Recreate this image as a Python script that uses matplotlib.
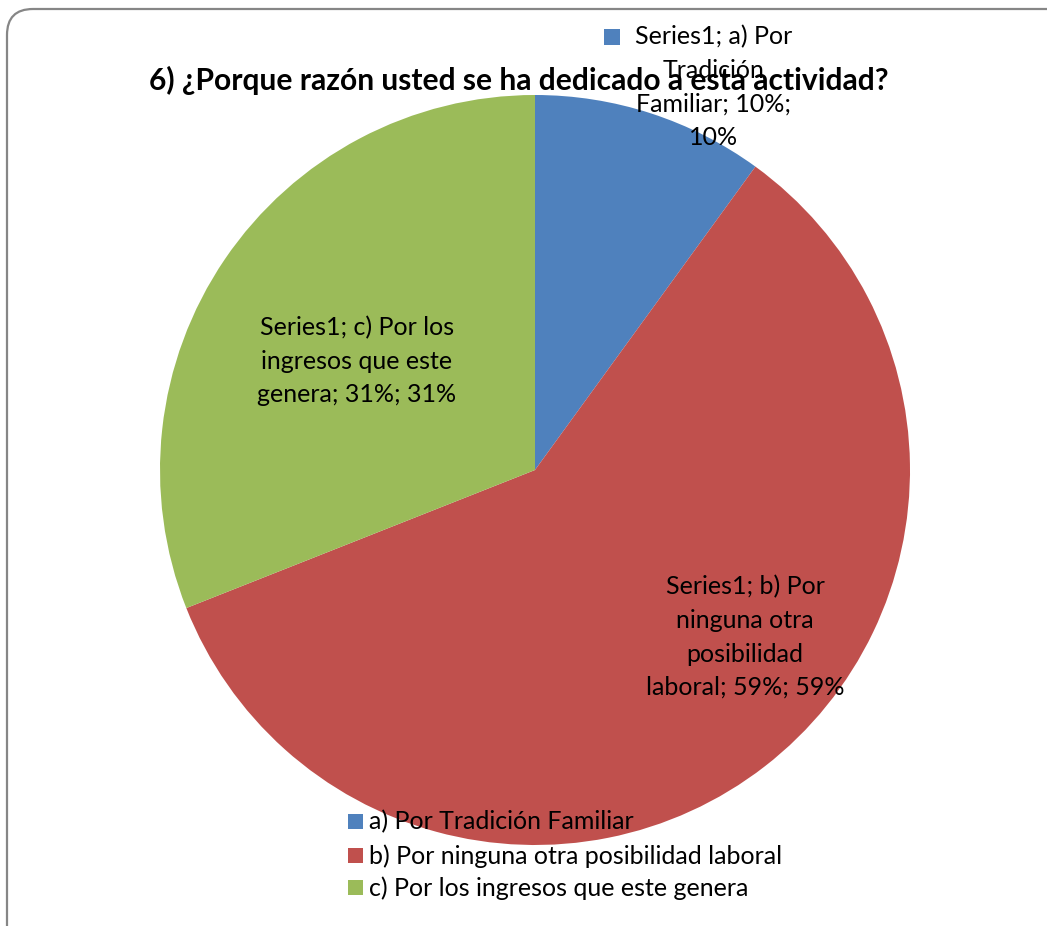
import matplotlib
matplotlib.use("Agg")
import matplotlib.pyplot as plt
from matplotlib.patches import FancyBboxPatch, Rectangle

W, H = 1047, 926
categories = ["a) Por Tradición Familiar",
              "b) Por ninguna otra posibilidad laboral",
              "c) Por los ingresos que este genera"]
values = [10, 59, 31]
colors = ["#4F81BD", "#C0504D", "#9BBB59"]
title = "6) ¿Porque razón usted se ha dedicado a esta actividad?"
series_name = "Series1"
# wrapped data labels (Excel style: series; category; value; percent)
label_lines = [
    [f"{series_name}; a) Por", "Tradición", f"Familiar; {values[0]}%;", f"{values[0]}%"],
    [f"{series_name}; b) Por", "ninguna otra", "posibilidad", f"laboral; {values[1]}%; {values[1]}%"],
    [f"{series_name}; c) Por los", "ingresos que este", f"genera; {values[2]}%; {values[2]}%"],
]
label_pos = [(714, 37), (745, 587), (357, 328)]  # pixel centre x, first line y

plt.rcParams['font.family'] = ['Lato', 'DejaVu Sans']

fig = plt.figure(figsize=(W / 100, H / 100), dpi=100)

def fx(x):
    return x / W

def fy(y):
    return 1 - y / H

# rounded border
border = FancyBboxPatch((7, -40), 1100, 917 + 40, boxstyle="round,pad=0,rounding_size=26",
                        transform=None, fill=False, edgecolor="#868686", linewidth=1.6)
fig.patches.append(border)

cx, cy, r = 535, 470, 375
ax = fig.add_axes([fx(cx - r), fy(cy + r), 2 * r / W, 2 * r / H])
ax.pie(values, colors=colors, startangle=90, counterclock=False, radius=1,
       wedgeprops=dict(linewidth=0))
ax.set_xlim(-1, 1)
ax.set_ylim(-1, 1)
ax.set_aspect('equal')
ax.axis('off')

fig.text(fx(519), fy(80), title, ha='center', va='center', fontsize=21.6,
         fontweight='bold', color='black', zorder=5)

line_h = 33.5
fs = 18
for lines, (x0, y0) in zip(label_lines, label_pos):
    for i, line in enumerate(lines):
        fig.text(fx(x0), fy(y0 + i * line_h), line, ha='center', va='center',
                 fontsize=fs, color='black', zorder=10)

# legend key on the first data label
fig.patches.append(Rectangle((fx(604), fy(45)), 16 / W, 16 / H, transform=fig.transFigure,
                             facecolor=colors[0], edgecolor='none', zorder=10))

# legend
leg_y = [822, 856, 888]
for cat, col, y in zip(categories, colors, leg_y):
    fig.patches.append(Rectangle((fx(348), fy(y + 7)), 15 / W, 15 / H,
                                 transform=fig.transFigure, facecolor=col,
                                 edgecolor='none', zorder=10))
    fig.text(fx(369), fy(y), cat, ha='left', va='center', fontsize=fs,
             color='black', zorder=10)

fig.savefig("out.png", dpi=100)
